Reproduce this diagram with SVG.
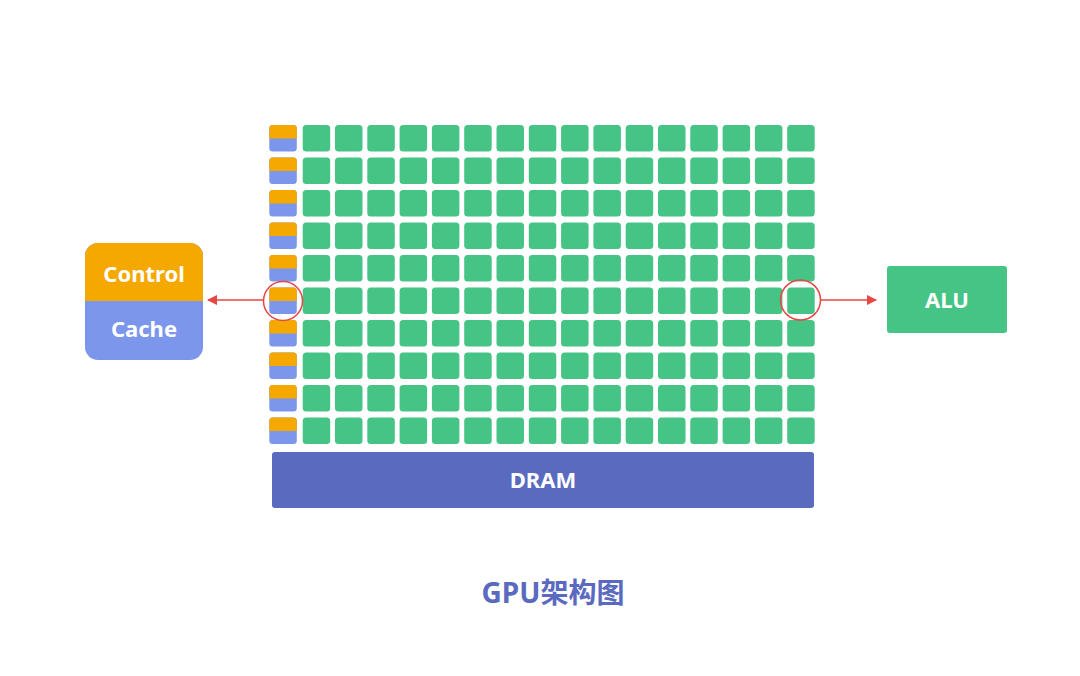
<svg xmlns="http://www.w3.org/2000/svg" width="1080" height="676" viewBox="0 0 1080 676">
<defs>
<style>
.alu{fill:#45c486}
.or{fill:#f5a800}
.bl{fill:#7b96ea}
.t{font-family:"Noto Sans","Noto Sans CJK SC",sans-serif;font-weight:bold;fill:#fff;text-anchor:middle}
.ln{stroke:#e84545;stroke-width:1.5;fill:none}
</style>
<marker id="ah" viewBox="0 0 10 10" refX="9" refY="5" markerWidth="7" markerHeight="7" orient="auto-start-reverse"><path d="M0,0L10,5L0,10z" fill="#e84545"/></marker>
<rect id="a" width="27.5" height="26.5" rx="3.5" class="alu"/>
<g id="cc"><rect width="27.5" height="26.5" rx="3.5" class="bl"/><path d="M0,13.5V3.5A3.5,3.5 0 0 1 3.5,0H24A3.5,3.5 0 0 1 27.5,3.5V13.5Z" class="or"/></g>
<g id="row"><use href="#cc" x="269.3"/>
<use href="#a" x="302.7"/><use href="#a" x="335"/><use href="#a" x="367.3"/><use href="#a" x="399.6"/><use href="#a" x="431.9"/><use href="#a" x="464.2"/><use href="#a" x="496.5"/><use href="#a" x="528.8"/><use href="#a" x="561.1"/><use href="#a" x="593.4"/><use href="#a" x="625.7"/><use href="#a" x="658"/><use href="#a" x="690.3"/><use href="#a" x="722.6"/><use href="#a" x="754.9"/><use href="#a" x="787.2"/></g>
</defs>
<rect width="1080" height="676" fill="#fff"/>
<g id="grid">
<use href="#row" y="125"/><use href="#row" y="157.5"/><use href="#row" y="190"/><use href="#row" y="222.5"/><use href="#row" y="255"/><use href="#row" y="287.5"/><use href="#row" y="320"/><use href="#row" y="352.5"/><use href="#row" y="385"/><use href="#row" y="417.5"/>
</g>
<g id="dram"><rect x="272" y="452" width="542" height="56" rx="3" fill="#5a6abf"/><text x="543" y="488" class="t" font-size="22">DRAM</text></g>
<g id="control"><rect x="85" y="243" width="118" height="117" rx="13" class="bl"/><path d="M85,301V256A13,13 0 0 1 98,243H190A13,13 0 0 1 203,256V301Z" class="or"/>
<text x="144" y="282" class="t" font-size="22">Control</text><text x="144" y="337" class="t" font-size="22">Cache</text></g>
<g id="alu"><rect x="887" y="266" width="120" height="67" rx="3" class="alu"/><text x="947" y="308" class="t" font-size="22">ALU</text></g>
<g id="connectors">
<circle cx="283" cy="301" r="19.5" class="ln"/>
<circle cx="800.5" cy="300" r="20" class="ln"/>
<line x1="263.5" y1="300" x2="208" y2="300" class="ln" marker-end="url(#ah)"/>
<line x1="820.5" y1="300" x2="876" y2="300" class="ln" marker-end="url(#ah)"/>
</g>
<text x="553" y="603" font-family="'Noto Sans','Noto Sans CJK SC',sans-serif" font-weight="bold" font-size="28" fill="#5a6abf" text-anchor="middle">GPU架构图</text>
</svg>
